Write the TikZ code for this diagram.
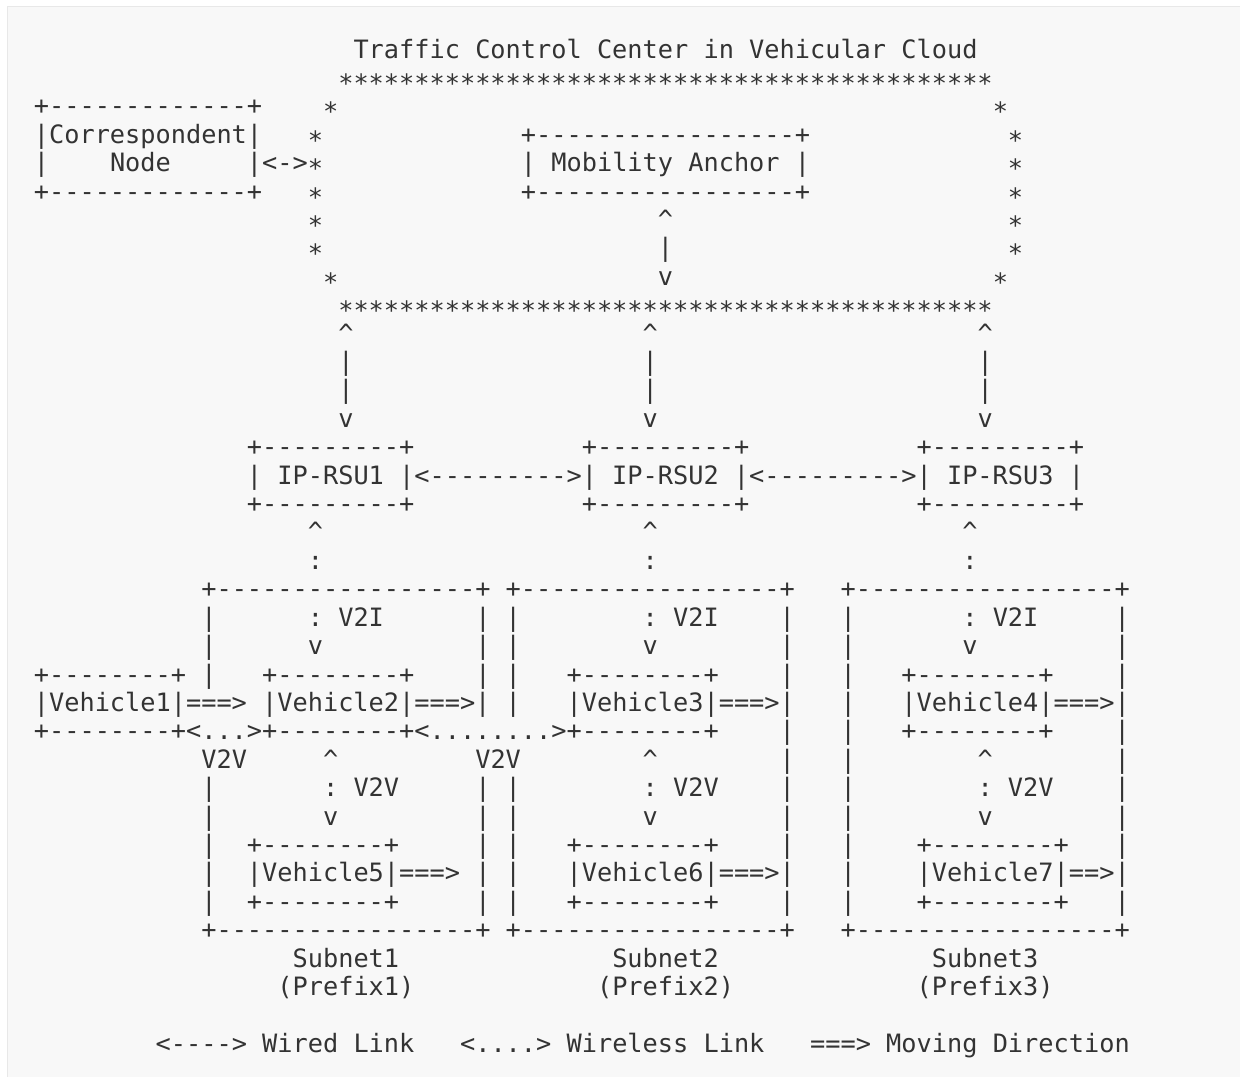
\documentclass[tikz,border=0pt]{standalone}
\usepackage{fontspec}
\setmonofont{DejaVu Sans Mono}
\usepackage{xcolor}
\definecolor{panel}{HTML}{F8F8F8}
\definecolor{panelline}{HTML}{E8E8E8}
\definecolor{ink}{HTML}{333333}
\tikzset{
  ascii/.style={font=\ttfamily\frenchspacing\fontsize{12.64pt}{14.2pt}\selectfont,
    text=ink,anchor=base west,inner sep=0pt,outer sep=0pt},
  cloudstar/.style={ascii,yshift=-3pt}
}
\begin{document}
\begin{tikzpicture}[x=7.61pt,y=-14.205pt]
\useasboundingbox (0pt,0pt) rectangle (620pt,-538.5pt);
\fill[white] (0pt,0pt) rectangle (620pt,-538.5pt);
\fill[panel] (3.75pt,-3.25pt) rectangle (620pt,-538.5pt);
\draw[panelline,line width=0.6pt] (620pt,-3.25pt) -- (3.75pt,-3.25pt) -- (3.75pt,-538.5pt);
\begin{scope}[shift={(16.95pt,-14.795pt)}]
% vehicular cloud
\node[ascii] (title) at (21,1) {Traffic Control Center in Vehicular Cloud};
\node[cloudstar] (cloudtop) at (20,2) {*******************************************};
\node[cloudstar] (cloudbot) at (20,10) {*******************************************};
\foreach \v/\u/\w in {3/19/63,4/18/64,5/18/64,6/18/64,7/18/64,8/18/64,9/19/63} {
  \node[cloudstar] (cl\v) at (\u,\v) {*};
  \node[cloudstar] (cr\v) at (\w,\v) {*};
}
% correspondent node
\node[ascii] (cntop) at (0,3) {+-------------+};
\node[ascii] (cnname) at (0,4) {|Correspondent|};
\node[ascii] (cnleft) at (0,5) {|};
\node[ascii] (cnnode) at (5,5) {Node};
\node[ascii] (cnlink) at (14,5) {|<->};
\node[ascii] (cnbot) at (0,6) {+-------------+};
% mobility anchor
\node[ascii] (matop) at (32,4) {+-----------------+};
\node[ascii] (maname) at (32,5) {| Mobility Anchor |};
\node[ascii] (mabot) at (32,6) {+-----------------+};
\node[ascii] (maup) at (41,7) {\textasciicircum};
\node[ascii] (mabar) at (41,8) {|};
\node[ascii] (madown) at (41,9) {v};
% cloud <-> ip-rsus
\foreach \u in {20,40,62} {
  \node[ascii] (up\u) at (\u,11) {\textasciicircum};
  \node[ascii] (bara\u) at (\u,12) {|};
  \node[ascii] (barb\u) at (\u,13) {|};
  \node[ascii] (down\u) at (\u,14) {v};
}
% ip-rsus
\foreach \u/\z in {14/1,36/2,58/3} {
  \node[ascii] (rsutop\z) at (\u,15) {+---------+};
  \node[ascii] (rsubot\z) at (\u,17) {+---------+};
}
\node[ascii] (rsus) at (14,16) {| IP-RSU1 |<--------->| IP-RSU2 |<--------->| IP-RSU3 |};
\foreach \u/\z in {18/1,40/2,61/3} {
  \node[ascii] (rsuup\z) at (\u,18) {\textasciicircum};
  \node[ascii] (rsulink\z) at (\u,19) {:};
}
% subnets
\foreach \u/\z in {11/1,31/2,53/3} {
  \node[ascii] (subtop\z) at (\u,20) {+-----------------+};
  \node[ascii] (subbot\z) at (\u,32) {+-----------------+};
}
\foreach \v in {21,22,23,27,28,29,31}
  \foreach \u in {11,29,31,49,53,71}
    \node[ascii] (side\v-\u) at (\u,\v) {|};
\foreach \v/\u in {24/31,24/53,25/49,25/53,25/71,26/49,26/53,26/71,30/11,30/29,30/31,30/53}
  \node[ascii] (side\v-\u) at (\u,\v) {|};
% v2i and v2v
\foreach \u/\z in {18/1,40/2,61/3} {
  \node[ascii] (v2i\z) at (\u,21) {: V2I};
  \node[ascii] (v2idown\z) at (\u,22) {v};
}
\foreach \u/\z in {19/1,40/2,62/3} {
  \node[ascii] (v2vup\z) at (\u,26) {\textasciicircum};
  \node[ascii] (v2v\z) at (\u,27) {: V2V};
  \node[ascii] (v2vdown\z) at (\u,28) {v};
}
\node[ascii] (v2va) at (11,26) {V2V};
\node[ascii] (v2vb) at (29,26) {V2V};
% vehicles
\foreach \u/\z in {0/1,15/2,35/3,57/4}
  \node[ascii] (vtop\z) at (\u,23) {+--------+};
\node[ascii] (veh12) at (0,24) {|Vehicle1|===> |Vehicle2|===>|};
\node[ascii] (veh3) at (35,24) {|Vehicle3|===>|};
\node[ascii] (veh4) at (57,24) {|Vehicle4|===>|};
\node[ascii] (vbot123) at (0,25) {+--------+<...>+--------+<........>+--------+};
\node[ascii] (vbot4) at (57,25) {+--------+};
\foreach \u/\z in {14/5,35/6,58/7} {
  \node[ascii] (vtop\z) at (\u,29) {+--------+};
  \node[ascii] (vbot\z) at (\u,31) {+--------+};
}
\node[ascii] (veh5) at (14,30) {|Vehicle5|===>};
\node[ascii] (veh6) at (35,30) {|Vehicle6|===>|};
\node[ascii] (veh7) at (58,30) {|Vehicle7|==>|};
% subnet labels
\foreach \u/\w/\z in {17/16/1,38/37/2,59/58/3} {
  \node[ascii] (subnet\z) at (\u,33) {Subnet\z};
  \node[ascii] (prefix\z) at (\w,34) {(Prefix\z)};
}
% legend
\node[ascii] (wired) at (8,36) {<----> Wired Link};
\node[ascii] (wireless) at (28,36) {<....> Wireless Link};
\node[ascii] (moving) at (51,36) {===> Moving Direction};
\end{scope}
\end{tikzpicture}
\end{document}
